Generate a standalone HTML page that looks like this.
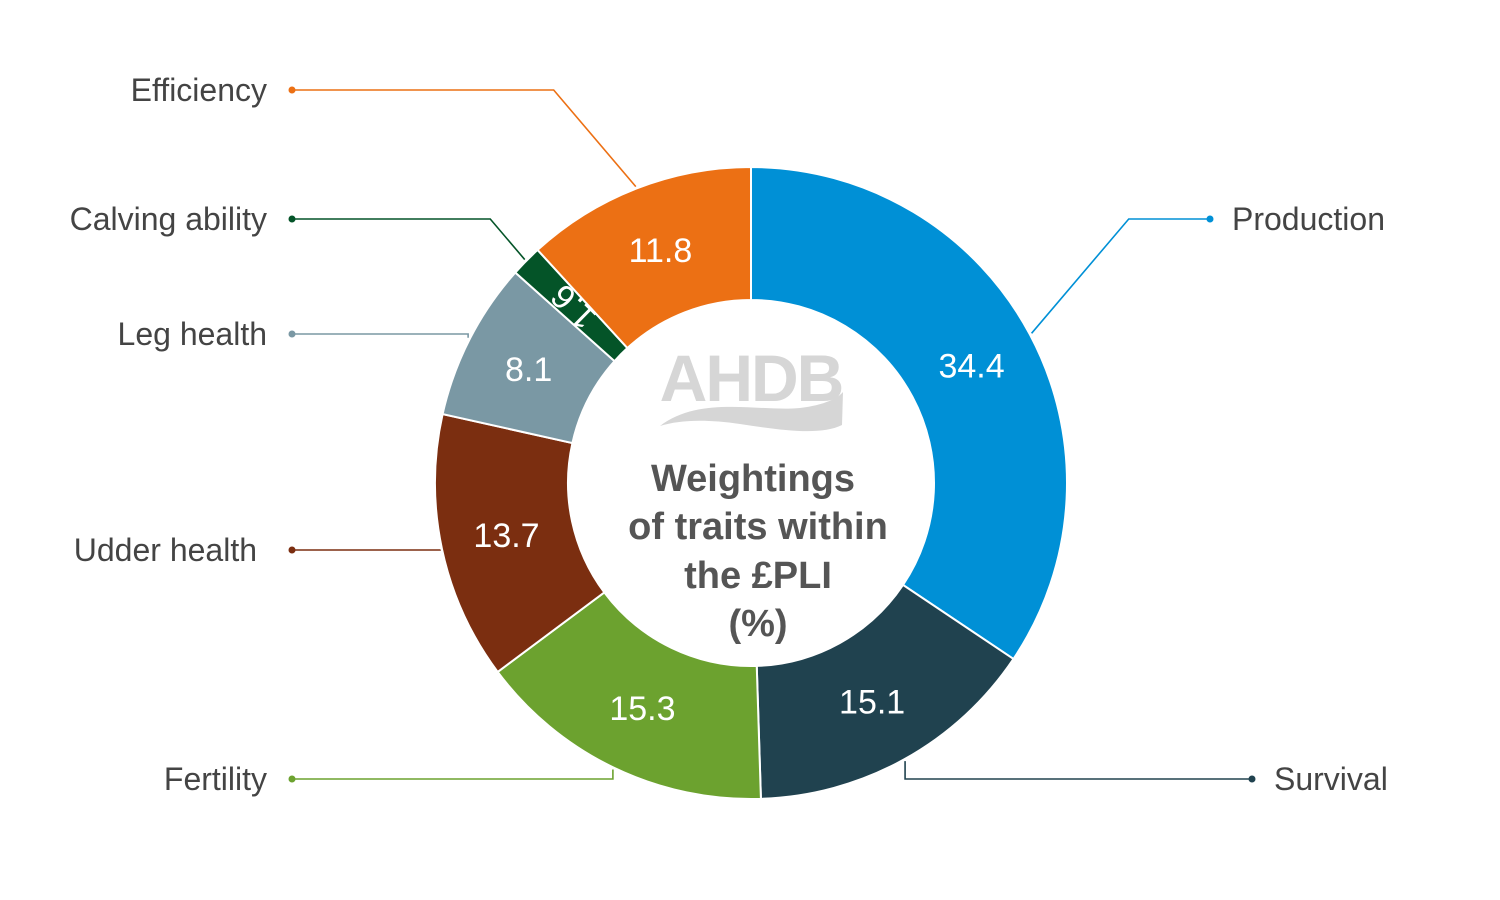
<!DOCTYPE html>
<html><head><meta charset="utf-8"><style>
html,body{margin:0;padding:0;background:#fff;}
svg{display:block;font-family:"Liberation Sans",sans-serif;}
</style></head><body>
<svg id="chart" width="1500" height="900" viewBox="0 0 1500 900">
  <g id="slices"></g>
  <g id="vals"></g>
  <g id="leaders"></g>
  <g>
    <text x="751" y="401" text-anchor="middle" font-size="66" font-weight="bold" fill="#d6d6d6" letter-spacing="-2">AHDB</text>
    <path d="M660 426 C700 395 760 412 800 408 C825 405 838 398 843 392 L842 425 C820 436 780 430 740 424 C705 419 680 420 660 426 Z" fill="#d6d6d6"/>
  </g>
  <g font-size="38" font-weight="bold" fill="#555" text-anchor="middle">
    <text x="753" y="491">Weightings</text>
    <text x="758" y="539">of traits within</text>
    <text x="758" y="588">the £PLI</text>
    <text x="758" y="636">(%)</text>
  </g>
</svg>
<script>
const categories=["Production","Survival","Fertility","Udder health","Leg health","Calving ability","Efficiency"];
const values=[34.4,15.1,15.3,13.7,8.1,1.6,11.8];
const colors=["#0090d6","#20424f","#6ca22f","#7b2e10","#7a98a4","#045428","#ec7014"];
// leader label anchor: [elbow/end y, side]
const labelY=[219,779,779,550,334,219,90];
const labelSide=["r","r","l","l","l","l","l"];
const cx=751,cy=483,R=316,r=183;
const NS="http://www.w3.org/2000/svg";
const total=values.reduce((a,b)=>a+b,0);
function ang(v){return v/total*2*Math.PI;}
function pt(a,rad){return [cx+rad*Math.sin(a),cy-rad*Math.cos(a)];}
const gS=document.getElementById('slices'),gV=document.getElementById('vals'),gL=document.getElementById('leaders');
let acc=0;
values.forEach((v,i)=>{
  const a0=ang(acc),a1=ang(acc+v);acc+=v;
  const large=(a1-a0)>Math.PI?1:0;
  const p0=pt(a0,R),p1=pt(a1,R),q1=pt(a1,r),q0=pt(a0,r);
  const p=document.createElementNS(NS,'path');
  p.setAttribute('d',`M${p0} A${R} ${R} 0 ${large} 1 ${p1} L${q1} A${r} ${r} 0 ${large} 0 ${q0} Z`);
  p.setAttribute('fill',colors[i]);p.setAttribute('stroke','#fff');p.setAttribute('stroke-width','2');
  
  
  gS.appendChild(p);
  const am=(a0+a1)/2,m=pt(am,250);
  const t=document.createElementNS(NS,'text');
  t.setAttribute('x',m[0]);t.setAttribute('y',m[1]+12);
  t.setAttribute('text-anchor','middle');t.setAttribute('font-size','34');t.setAttribute('fill','#fff');
  if(v<3)t.setAttribute('transform',`rotate(${am*180/Math.PI-90+180+180} ${m[0]} ${m[1]})`);
  t.textContent=v.toFixed(1);
  
  
  gV.appendChild(t);
  // leader
  const s=pt(am,R+2);const y=labelY[i];
  const right=labelSide[i]==="r";
  let ex=right?s[0]+Math.abs(y-s[1])*0.85:s[0]-Math.abs(y-s[1])*0.85;
  if(Math.abs(y-s[1])<30){ex=s[0];}
  const endX=right?(i===1?1252:1210):292;
  const pl=document.createElementNS(NS,'polyline');
  pl.setAttribute('points',`${s} ${ex},${y} ${endX},${y}`);
  pl.setAttribute('fill','none');pl.setAttribute('stroke',colors[i]);pl.setAttribute('stroke-width','1.6');
  
  
  gL.appendChild(pl);
  const c=document.createElementNS(NS,'circle');
  c.setAttribute('cx',endX);c.setAttribute('cy',y);c.setAttribute('r','3.5');c.setAttribute('fill',colors[i]);
  
  
  gL.appendChild(c);
  const lt=document.createElementNS(NS,'text');
  lt.setAttribute('x',right?endX+22:(i===3?257:267));lt.setAttribute('y',y+11);
  lt.setAttribute('text-anchor',right?'start':'end');lt.setAttribute('font-size','32');lt.setAttribute('fill','#444');
  lt.textContent=categories[i];
  
  
  gL.appendChild(lt);
});
</script>
</body></html>
